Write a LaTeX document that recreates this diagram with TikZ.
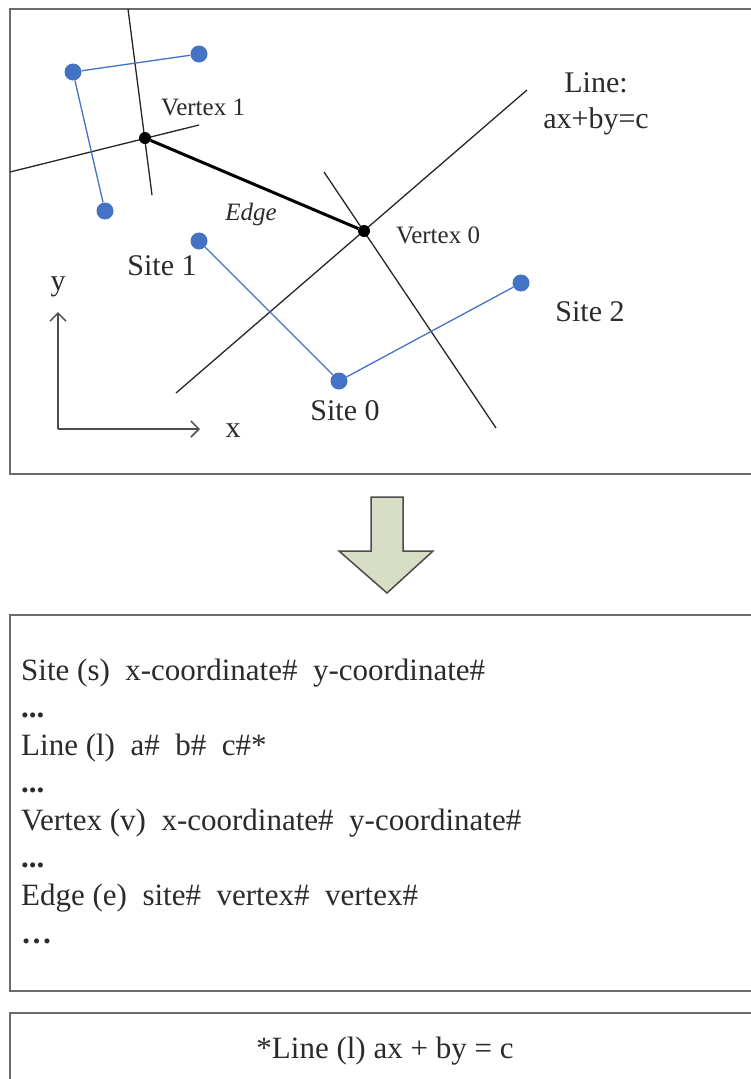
\documentclass[tikz,border=0pt]{standalone}
\usepackage{fontspec}
\setmainfont{Liberation Serif}
\usetikzlibrary{arrows.meta}
\definecolor{sitecol}{HTML}{4472C4}
\definecolor{boxcol}{HTML}{6B6B6B}
\definecolor{arrfill}{HTML}{D8DEC6}
\definecolor{txt}{HTML}{2B2B2B}
\begin{document}
\begin{tikzpicture}[x=1pt,y=-1pt,
  frame/.style={draw=boxcol,line width=2pt,fill=white},
  site/.style={circle,fill=sitecol,inner sep=0pt,minimum size=17pt},
  vert/.style={circle,fill=black,inner sep=0pt,minimum size=12pt},
  bis/.style={draw=black!85,line width=1.3pt},
  ridge/.style={draw=black,line width=3pt},
  link/.style={draw=sitecol,line width=1.3pt},
  big/.style={font=\fontsize{30}{36}\selectfont,text=txt,inner sep=0pt},
  rec/.style={font=\fontsize{31}{37}\selectfont,text=txt,inner sep=0pt},
  small/.style={font=\fontsize{25}{30}\selectfont,text=txt,inner sep=0pt},
  axis/.style={draw=black!70,line width=1.5pt,-{Straight Barb[length=8pt,width=16pt]}},
  blockarrow/.style={draw=black!70,line width=1.5pt,fill=arrfill,line join=miter},
]
\useasboundingbox (0,0) rectangle (751,1079);
\clip (0,0) rectangle (751,1079);
% frames
\draw[frame] (10,9) rectangle (790,474);
\draw[frame] (10,615) rectangle (790,991);
\draw[frame] (10,1013) rectangle (790,1110);
% bisector line end points
\coordinate (l1a) at (128,9);
\coordinate (l1b) at (152,195);
\coordinate (l2a) at (10,172);
\coordinate (l2b) at (199,125);
\coordinate (l3a) at (527,90);
\coordinate (l3b) at (176,393);
\coordinate (l4a) at (324,172);
\coordinate (l4b) at (496,428);
\draw[bis] (l1a) -- (l1b);
\draw[bis] (l2a) -- (l2b);
\draw[bis] (l3a) -- (l3b);
\draw[bis] (l4a) -- (l4b);
% sites
\node[site] (sa) at (73,72) {};
\node[site] (sb) at (199,54) {};
\node[site] (sc) at (105,211) {};
\node[site] (s1) at (199,241) {};
\node[site] (s0) at (339,381) {};
\node[site] (s2) at (521,283) {};
\draw[link] (sa) -- (sb);
\draw[link] (sa) -- (sc);
\draw[link] (s1) -- (s0);
\draw[link] (s0) -- (s2);
% vertices and edge
\node[vert] (v1) at (145,138) {};
\node[vert] (v0) at (364,231) {};
\draw[ridge] (v1) -- (v0);
% labels
\node[small,anchor=base] (tv1) at (203,115) {Vertex 1};
\node[small,anchor=base] (tv0) at (438,243) {Vertex 0};
\node[small,anchor=base] (te) at (251,220) {\itshape Edge};
\node[big,anchor=base] (ts1) at (162,275) {Site 1};
\node[big,anchor=base] (ts2) at (590,321) {Site 2};
\node[big,anchor=base] (ts0) at (345,420) {Site 0};
\node[big,anchor=base] (tl1) at (596,92) {Line:};
\node[big,anchor=base] (tl2) at (596,128) {ax+by=c};
% axes
\coordinate (o) at (58,429);
\coordinate (yend) at (58,312);
\coordinate (xend) at (200,429);
\draw[axis] (o) -- (yend);
\draw[axis] (o) -- (xend);
\node[big,anchor=base] (ty) at (58,290) {y};
\node[big,anchor=base] (tx) at (233,437) {x};
% block arrow
\draw[blockarrow] (371,497) -- (403,497) -- (403,551) -- (433,551) -- (387,593) -- (339,551) -- (371,551) -- cycle;
% text box
\node[rec,anchor=base west] (r1) at (21,680) {Site (s)\ \ x-coordinate\#\ \ y-coordinate\#};
\node[rec,anchor=base west] (r2) at (21,717) {\textbf{...}};
\node[rec,anchor=base west] (r3) at (21,755) {Line (l)\ \ a\#\ \ b\#\ \ c\#*};
\node[rec,anchor=base west] (r4) at (21,792) {\textbf{...}};
\node[rec,anchor=base west] (r5) at (21,830) {Vertex (v)\ \ x-coordinate\#\ \ y-coordinate\#};
\node[rec,anchor=base west] (r6) at (21,867) {\textbf{...}};
\node[rec,anchor=base west] (r7) at (21,905) {Edge (e)\ \ site\#\ \ vertex\#\ \ vertex\#};
\node[rec,anchor=base west] (r8) at (21,943) {\textbf{…}};
% footnote box
\node[rec,anchor=base] (fn) at (385,1058) {*Line (l) ax + by = c};
\end{tikzpicture}
\end{document}
